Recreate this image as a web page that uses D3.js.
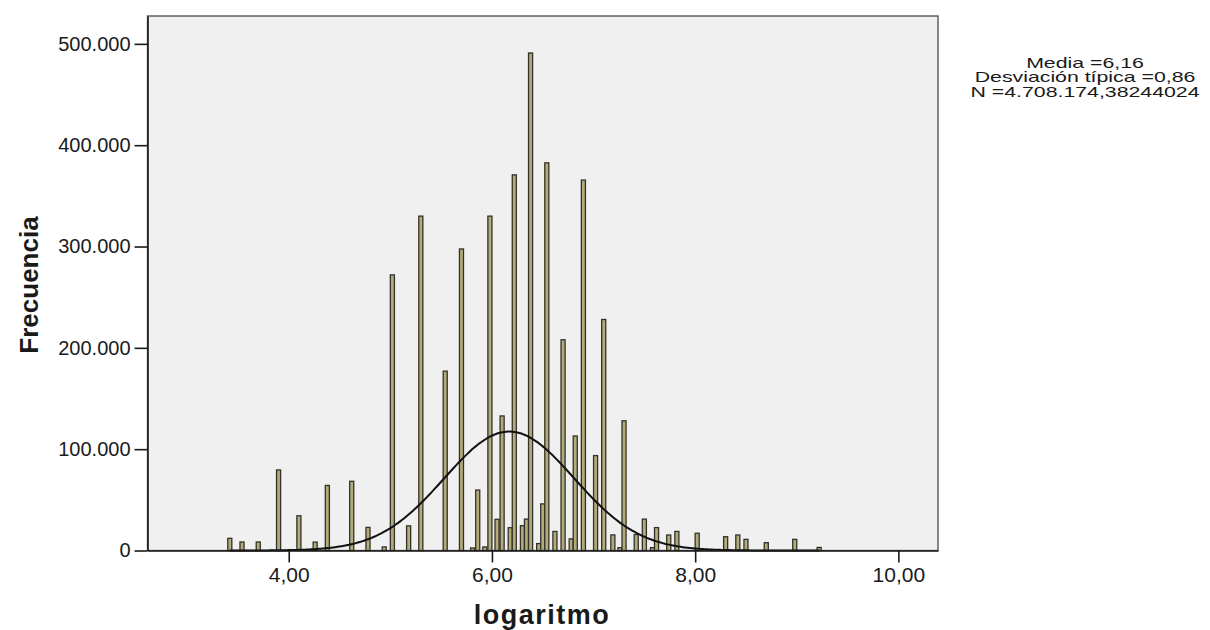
<!DOCTYPE html>
<html lang="es">
<head>
    <meta charset="UTF-8">
    <title>Histograma logaritmo</title>
    <script src="https://cdn.jsdelivr.net/npm/d3@7/dist/d3.min.js"></script>
    <style>
        body { margin: 0; background: #fff; }
        text { font-family: Arial, "Liberation Sans", sans-serif; fill: #1a1a1a; }
    </style>
</head>
<body>
<script>
    // centros de los intervalos (logaritmo) y frecuencias
    var binCenters = [3.42, 3.54, 3.70, 3.90, 4.10, 4.26, 4.38, 4.62, 4.78, 4.94,
        5.02, 5.18, 5.30, 5.54, 5.70, 5.81, 5.86, 5.93, 5.98, 6.05,
        6.10, 6.18, 6.22, 6.30, 6.34, 6.38, 6.46, 6.50, 6.54, 6.62,
        6.70, 6.78, 6.82, 6.90, 7.02, 7.10, 7.19, 7.26, 7.30, 7.42,
        7.50, 7.58, 7.62, 7.74, 7.82, 8.02, 8.30, 8.42, 8.50, 8.70,
        8.98, 9.22];
    var frecuencias = [12000, 8400, 8400, 79500, 34300, 8300, 64200, 68300, 22800, 3500,
        272000, 24300, 330000, 177000, 297600, 2500, 59700, 3500, 330000, 30800,
        132800, 22500, 370700, 24500, 31000, 491000, 6800, 46000, 382600, 18800,
        208000, 11500, 113000, 365600, 93700, 228000, 15400, 2800, 128000, 15800,
        31000, 2800, 22600, 15300, 18800, 17000, 13600, 15300, 11000, 7700,
        11000, 3000];
    var binWidth = 0.04;

    var xTicks = [4, 6, 8, 10];
    var yTicks = [0, 100000, 200000, 300000, 400000, 500000];

    // curva normal superpuesta
    var media = 6.17;
    var curveSd = 0.64;
    var nTotal = 4708174.38244024;

    var statsLines = ["Media =6,16", "Desviación típica =0,86", "N =4.708.174,38244024"];

    var w = 1210, h = 630;
    // ojo: "top" es window.top, no se puede usar como nombre
    var mLeft = 147.5, mRight = 938, mTop = 16, mBottom = 550.5;

    var es = d3.formatLocale({decimal: ",", thousands: ".", grouping: [3], currency: ["", "€"]});

    var xScale = d3.scaleLinear().domain([2.61, 10.39]).range([mLeft, mRight]);
    var yScale = d3.scaleLinear().domain([0, 527500]).range([mBottom, mTop]);

    var svg = d3.select("body").append("svg")
        .attr("width", w)
        .attr("height", h);

    var defs = svg.append("defs");
    defs.append("filter").attr("id", "suave")
        .append("feGaussianBlur").attr("stdDeviation", 0.45);

    svg.append("rect")
        .attr("x", mLeft).attr("y", mTop)
        .attr("width", mRight - mLeft).attr("height", mBottom - mTop)
        .attr("fill", "#f0f0f0")
        .attr("stroke", "#4a4a4a")
        .attr("stroke-width", 1.3);

    var bins = binCenters.map(function (c, i) {
        return {x: c, n: frecuencias[i]};
    });

    svg.append("g")
        .attr("filter", "url(#suave)")
        .selectAll("rect")
        .data(bins)
        .enter()
        .append("rect")
        .attr("x", function (d) { return xScale(d.x - binWidth / 2); })
        .attr("y", function (d) { return yScale(d.n); })
        .attr("width", function (d) { return xScale(d.x + binWidth / 2) - xScale(d.x - binWidth / 2); })
        .attr("height", function (d) { return yScale(0) - yScale(d.n); })
        .attr("fill", "#b3ab7a")
        .attr("stroke", "#33332c")
        .attr("stroke-width", 1.3);

    var pts = d3.range(binCenters[0], binCenters[binCenters.length - 1] + 0.001, 0.02);
    var curve = d3.line()
        .x(function (v) { return xScale(v); })
        .y(function (v) {
            var z = (v - media) / curveSd;
            return yScale(nTotal * binWidth * Math.exp(-z * z / 2) / (curveSd * Math.sqrt(2 * Math.PI)));
        })
        .curve(d3.curveBasis);
    svg.append("path")
        .datum(pts)
        .attr("d", curve)
        .attr("fill", "none")
        .attr("stroke", "#111")
        .attr("stroke-width", 2);

    var yAxis = svg.append("g")
        .attr("transform", "translate(" + mLeft + ",0)")
        .call(d3.axisLeft(yScale).tickValues(yTicks).tickSize(13).tickSizeOuter(0).tickPadding(4)
            .tickFormat(es.format(",d")));
    yAxis.select(".domain").attr("stroke", "#1a1a1a").attr("stroke-width", 1.6);
    yAxis.selectAll(".tick line").attr("stroke", "#1a1a1a").attr("stroke-width", 1.6);
    yAxis.selectAll("text").attr("font-size", 20).attr("fill", "#1a1a1a")
        .attr("font-family", "Arial, 'Liberation Sans', sans-serif");

    var xAxis = svg.append("g")
        .attr("transform", "translate(0," + mBottom + ")")
        .call(d3.axisBottom(xScale).tickValues(xTicks).tickSize(12).tickSizeOuter(0).tickPadding(5)
            .tickFormat(es.format(".2f")));
    xAxis.select(".domain").attr("stroke", "#1a1a1a").attr("stroke-width", 1.6);
    xAxis.selectAll(".tick line").attr("stroke", "#1a1a1a").attr("stroke-width", 1.6);
    xAxis.selectAll("text").attr("font-size", 21).attr("fill", "#1a1a1a")
        .attr("font-family", "Arial, 'Liberation Sans', sans-serif");

    svg.append("text")
        .attr("x", 542).attr("y", 624)
        .attr("text-anchor", "middle")
        .attr("font-size", 27)
        .attr("font-weight", "bold")
        .attr("letter-spacing", 1.5)
        .text("logaritmo");

    svg.append("text")
        .attr("transform", "translate(38,285) rotate(-90)")
        .attr("text-anchor", "middle")
        .attr("font-size", 26)
        .attr("font-weight", "bold")
        .text("Frecuencia");

    var stats = svg.append("g")
        .attr("transform", "translate(1085,0) scale(1.42,1)");
    stats.selectAll("text")
        .data(statsLines)
        .enter()
        .append("text")
        .attr("x", 0)
        .attr("y", function (d, i) { return 68 + i * 14.5; })
        .attr("text-anchor", "middle")
        .attr("font-size", 15)
        .text(function (d) { return d; });
</script>
</body>
</html>
